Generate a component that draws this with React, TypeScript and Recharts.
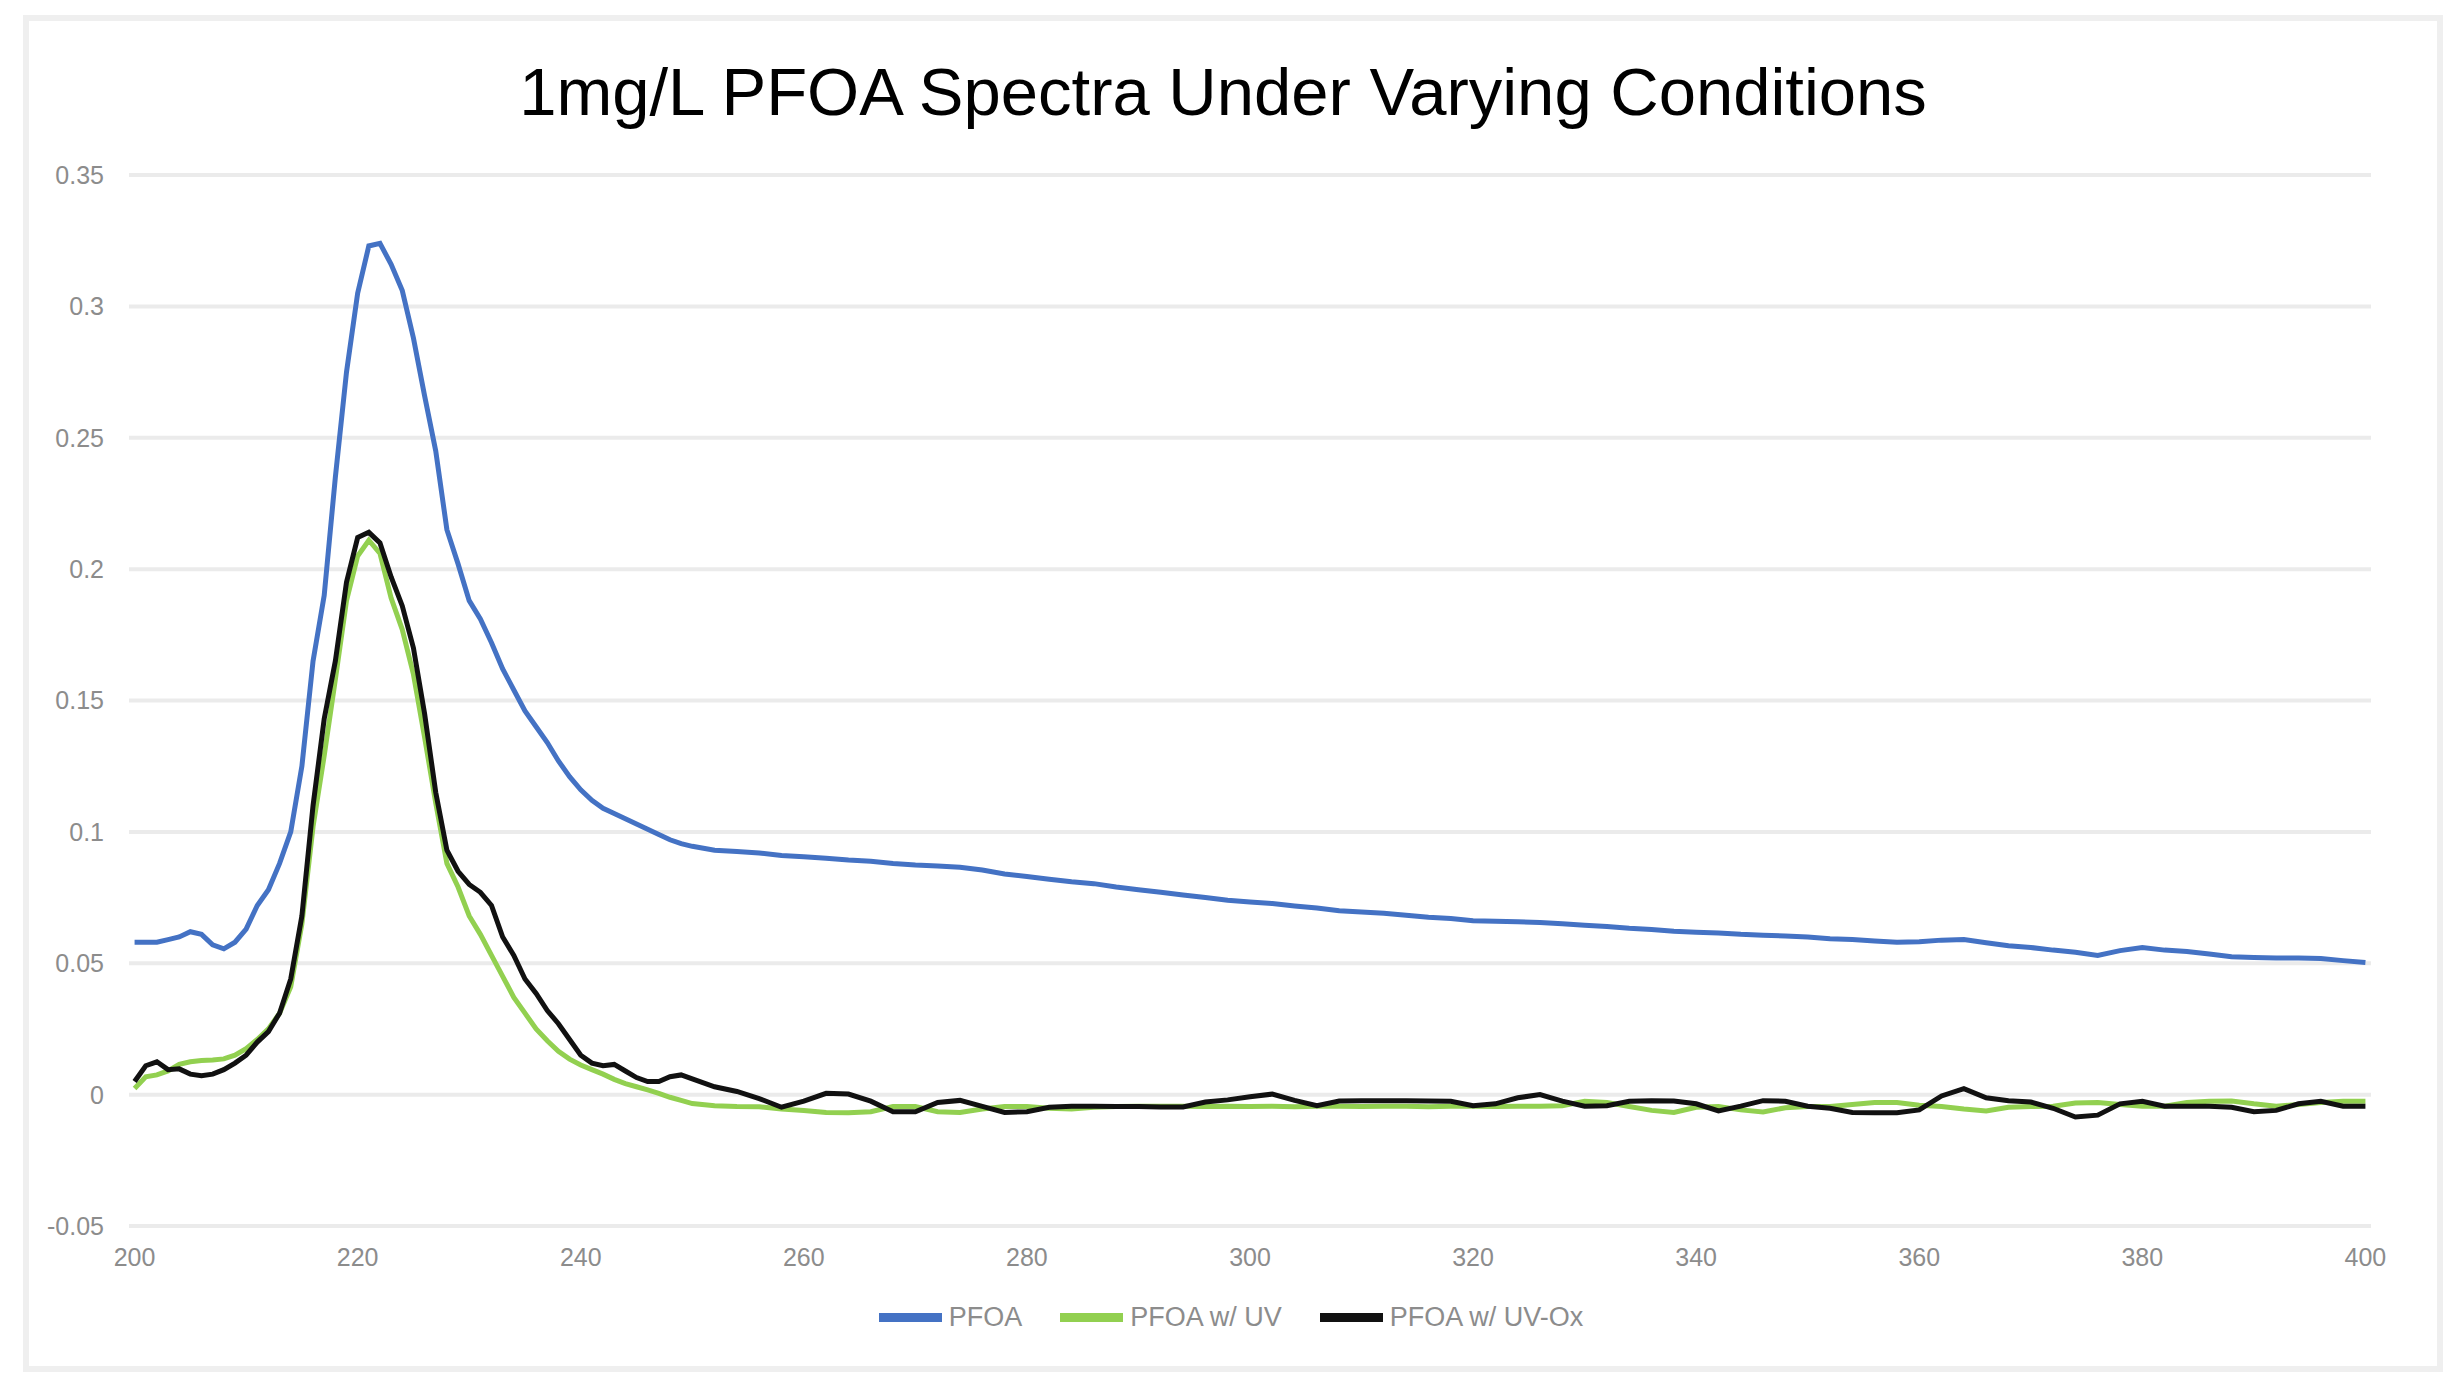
import { CartesianGrid, Line, LineChart, XAxis, YAxis } from "recharts";

// wavelength (nm): 1 nm steps through the peak, 2 nm steps after
const wavelengths = [
  200, 201, 202, 203, 204, 205, 206, 207, 208, 209,
  210, 211, 212, 213, 214, 215, 216, 217, 218, 219,
  220, 221, 222, 223, 224, 225, 226, 227, 228, 229,
  230, 231, 232, 233, 234, 235, 236, 237, 238, 239,
  240, 241, 242, 243, 244, 245, 246, 247, 248, 249,
  250,
  252, 254, 256, 258, 260, 262, 264, 266, 268, 270,
  272, 274, 276, 278, 280, 282, 284, 286, 288, 290,
  292, 294, 296, 298, 300, 302, 304, 306, 308, 310,
  312, 314, 316, 318, 320, 322, 324, 326, 328, 330,
  332, 334, 336, 338, 340, 342, 344, 346, 348, 350,
  352, 354, 356, 358, 360, 362, 364, 366, 368, 370,
  372, 374, 376, 378, 380, 382, 384, 386, 388, 390,
  392, 394, 396, 398, 400,
];

const pfoa = [
  0.058, 0.058, 0.058, 0.059, 0.06, 0.062, 0.061, 0.057, 0.0555, 0.058,
  0.063, 0.072, 0.078, 0.088, 0.1, 0.125, 0.165, 0.19, 0.235, 0.275,
  0.305, 0.323, 0.324, 0.316, 0.306, 0.288, 0.266, 0.245, 0.215, 0.202,
  0.188, 0.181, 0.172, 0.162, 0.154, 0.146, 0.14, 0.134, 0.127, 0.121,
  0.116, 0.112, 0.109, 0.107, 0.105, 0.103, 0.101, 0.099, 0.097, 0.0955,
  0.0945,
  0.093, 0.0925, 0.092, 0.091, 0.0905, 0.09, 0.0893, 0.0888, 0.088, 0.0874,
  0.087, 0.0865, 0.0855, 0.084, 0.083, 0.082, 0.081, 0.0803, 0.079, 0.078,
  0.077, 0.076, 0.075, 0.074, 0.0733, 0.0727, 0.0718, 0.071, 0.07, 0.0695,
  0.069, 0.0683, 0.0675, 0.067, 0.0662, 0.066, 0.0658, 0.0655, 0.065, 0.0645,
  0.064, 0.0633, 0.0628, 0.0622, 0.0618, 0.0615, 0.061, 0.0607, 0.0604, 0.06,
  0.0593, 0.059, 0.0585, 0.058, 0.0582, 0.0588, 0.059, 0.0578, 0.0567, 0.056,
  0.055, 0.0542, 0.053, 0.0548, 0.056, 0.055, 0.0545, 0.0535, 0.0525, 0.0522,
  0.052, 0.052, 0.0518, 0.051, 0.0503,
];

const pfoaUv = [
  0.0023, 0.0068, 0.0075, 0.009, 0.0115, 0.0125, 0.013, 0.0132, 0.0136, 0.015,
  0.0175, 0.021, 0.025, 0.031, 0.041, 0.065, 0.102, 0.129, 0.158, 0.188,
  0.205, 0.211, 0.206, 0.189, 0.177, 0.16, 0.136, 0.111, 0.088, 0.079,
  0.068, 0.061, 0.053, 0.045, 0.037, 0.031, 0.025, 0.0205, 0.0165, 0.0135,
  0.0113, 0.0095, 0.0078, 0.0058, 0.0042, 0.003, 0.0018, 0.0005, -0.001, -0.0022,
  -0.0034,
  -0.0042, -0.0045, -0.0046, -0.0055, -0.006, -0.0068, -0.0069, -0.0065, -0.0045, -0.0045,
  -0.0065, -0.0068, -0.0055, -0.0045, -0.0045, -0.0052, -0.0055, -0.0048, -0.0045, -0.0044,
  -0.0044, -0.0044, -0.0045, -0.0044, -0.0045, -0.0044, -0.0046, -0.0044, -0.0044, -0.0045,
  -0.0044, -0.0044, -0.0046, -0.0044, -0.0044, -0.0045, -0.0044, -0.0044, -0.0042, -0.0025,
  -0.003, -0.0045, -0.006, -0.0068, -0.0048, -0.0045, -0.0058, -0.0066, -0.005, -0.0045,
  -0.0045, -0.0038, -0.003, -0.003, -0.004, -0.0045, -0.0055, -0.0062, -0.0048, -0.0045,
  -0.0044, -0.0032, -0.003, -0.0038, -0.0044, -0.0044, -0.003, -0.0025, -0.0024, -0.0035,
  -0.0044, -0.0038, -0.003, -0.0025, -0.0025,
];

const pfoaUvOx = [
  0.005, 0.011, 0.0125, 0.0095, 0.0098, 0.0078, 0.0072, 0.0078, 0.0095, 0.012,
  0.015, 0.02, 0.024, 0.031, 0.044, 0.068, 0.11, 0.143, 0.165, 0.195,
  0.212, 0.214, 0.21, 0.197, 0.186, 0.17, 0.145, 0.115, 0.093, 0.085,
  0.08, 0.077, 0.072, 0.06, 0.053, 0.044, 0.0385, 0.032, 0.027, 0.021,
  0.015, 0.012, 0.011, 0.0115, 0.009, 0.0065, 0.005, 0.005, 0.0068, 0.0075,
  0.006,
  0.003, 0.0012, -0.0015, -0.0048, -0.0025, 0.0005, 0.0002, -0.0025, -0.0065, -0.0065,
  -0.003, -0.0022, -0.0045, -0.0068, -0.0065, -0.0048, -0.0044, -0.0044, -0.0045, -0.0045,
  -0.0047, -0.0047, -0.0028, -0.002, -0.0008, 0.0002, -0.0022, -0.0042, -0.0024, -0.0023,
  -0.0023, -0.0023, -0.0024, -0.0025, -0.0042, -0.0035, -0.0012, 0, -0.0025, -0.0044,
  -0.0042, -0.0025, -0.0023, -0.0024, -0.0035, -0.0062, -0.0044, -0.0023, -0.0025, -0.0044,
  -0.0052, -0.0068, -0.0069, -0.0069, -0.0058, -0.0005, 0.0023, -0.0012, -0.0023, -0.0028,
  -0.0052, -0.0085, -0.0078, -0.0035, -0.0025, -0.0044, -0.0044, -0.0044, -0.0048, -0.0065,
  -0.006, -0.0035, -0.0025, -0.0044, -0.0044,
];

const xTicks = [200, 220, 240, 260, 280, 300, 320, 340, 360, 380, 400];
const yTicks = [-0.05, 0, 0.05, 0.1, 0.15, 0.2, 0.25, 0.3, 0.35];

const series = [
  { key: "pfoa", name: "PFOA", color: "#4472C4", values: pfoa },
  { key: "pfoaUv", name: "PFOA w/ UV", color: "#92D050", values: pfoaUv },
  { key: "pfoaUvOx", name: "PFOA w/ UV-Ox", color: "#111111", values: pfoaUvOx },
];

const rows = wavelengths.map((nm, i) => {
  const row: Record<string, number> = { nm };
  series.forEach((s) => {
    row[s.key] = s.values[i];
  });
  return row;
});

const FONT = "'Liberation Sans', Arial, sans-serif";
const LABEL_GRAY = "#8c8c8c";

export default function App() {
  return (
    <div
      style={{
        position: "absolute",
        left: 0,
        top: 0,
        width: 2443,
        height: 1388,
        background: "#fff",
        fontFamily: FONT,
        overflow: "hidden",
      }}
    >
      {/* chart area frame */}
      <div
        style={{
          position: "absolute",
          left: 23,
          top: 15,
          width: 2420,
          height: 1357,
          boxSizing: "border-box",
          border: "6px solid #efefef",
        }}
      />

      <div
        style={{
          position: "absolute",
          left: 0,
          top: 58,
          width: 2446,
          textAlign: "center",
          fontSize: 67,
          lineHeight: "67px",
          color: "#000",
        }}
      >
        1mg/L PFOA Spectra Under Varying Conditions
      </div>

      <div style={{ position: "absolute", left: 0, top: 0 }}>
        <LineChart
          width={2443}
          height={1388}
          data={rows}
          margin={{ top: 175, right: 72, bottom: 0, left: 0 }}
        >
          <CartesianGrid vertical={false} stroke="#ebebeb" strokeWidth={4} />
          <XAxis
            dataKey="nm"
            type="number"
            domain={[199.5, 400.5]}
            ticks={xTicks}
            height={162}
            tickLine={false}
            axisLine={false}
            tickSize={0}
            tickMargin={22}
            tick={{ fill: LABEL_GRAY, fontSize: 25, fontFamily: FONT }}
          />
          <YAxis
            type="number"
            domain={[-0.05, 0.35]}
            ticks={yTicks}
            width={129}
            tickLine={false}
            axisLine={false}
            tickSize={0}
            tickMargin={25}
            tickFormatter={(v: number) => String(Math.round(v * 100) / 100)}
            tick={{ fill: LABEL_GRAY, fontSize: 25, fontFamily: FONT }}
          />
          {series.map((s) => (
            <Line
              key={s.key}
              type="linear"
              dataKey={s.key}
              name={s.name}
              stroke={s.color}
              strokeWidth={5}
              dot={false}
              isAnimationActive={false}
            />
          ))}
        </LineChart>
      </div>

      {/* legend */}
      <div
        style={{
          position: "absolute",
          left: 0,
          top: 1300,
          width: 2462,
          display: "flex",
          justifyContent: "center",
          gap: 38,
          fontSize: 27,
          lineHeight: "34px",
          color: LABEL_GRAY,
        }}
      >
        {series.map((s) => (
          <div key={s.key} style={{ display: "flex", alignItems: "center" }}>
            <div style={{ width: 63, height: 9, background: s.color, marginRight: 7 }} />
            <span>{s.name}</span>
          </div>
        ))}
      </div>
    </div>
  );
}
